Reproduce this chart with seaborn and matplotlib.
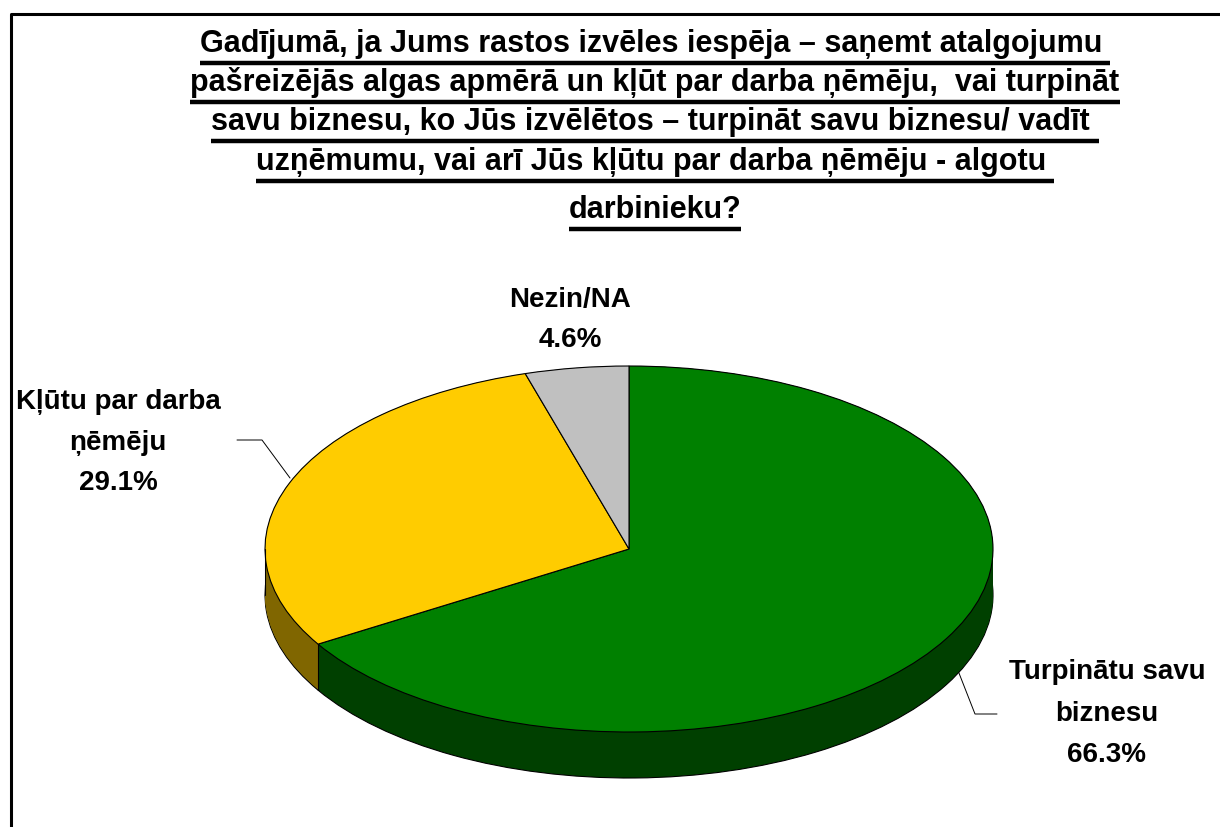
import numpy as np
import matplotlib
matplotlib.use("Agg")
import matplotlib.pyplot as plt
import seaborn as sns

# data
categories = ["Turpinātu savu\nbiznesu", "Kļūtu par darba\nņēmēju", "Nezin/NA"]
shares = [66.3, 29.1, 4.6]
top_colors = ["#008000", "#FFCC00", "#C0C0C0"]
side_colors = ["#004000", "#806600", "#606060"]
title_lines = [
    "Gadījumā, ja Jums rastos izvēles iespēja – saņemt atalgojumu ",
    "pašreizējās algas apmērā un kļūt par darba ņēmēju,  vai turpināt",
    "savu biznesu, ko Jūs izvēlētos – turpināt savu biznesu/ vadīt ",
    "uzņēmumu, vai arī Jūs kļūtu par darba ņēmēju - algotu ",
    "darbinieku?",
]

sns.set_theme(style="white")
plt.rcParams["font.family"] = ["Liberation Sans", "DejaVu Sans"]

W, H = 1220, 827
fig = plt.figure(figsize=(W / 100, H / 100), dpi=100)

# full-figure axes in pixel units for frame, title and leader lines
bg = fig.add_axes([0, 0, 1, 1])
bg.set_xlim(0, W)
bg.set_ylim(H, 0)
bg.axis("off")
bg.plot([11, 11, W + 5], [H + 5, 14, 14], color="black", lw=2.2, solid_capstyle="butt")

# pie geometry (pixels)
cx, cy, rx, ry, depth = 629, 549, 364, 183, 46
ax = fig.add_axes([(cx - rx) / W, (H - (cy + ry + depth)) / H,
                   2 * rx / W, (2 * ry + depth) / H])
d = depth / ry
offsets = np.linspace(d, 0, 48)
for k, off in enumerate(offsets):
    ax.pie(shares, colors=side_colors, startangle=90, counterclock=False,
           center=(0, -off),
           wedgeprops=dict(linewidth=0.8 if k == 0 else 0, edgecolor="black"))
ax.pie(shares, colors=top_colors, startangle=90, counterclock=False,
       wedgeprops=dict(linewidth=0.8, edgecolor="black"))

# vertical edges on the visible side
bounds = 90 - np.cumsum([0] + shares) * 3.6
for a in bounds:
    t = np.deg2rad(a)
    if np.sin(t) < 0:
        ax.plot([np.cos(t)] * 2, [np.sin(t), np.sin(t) - d], color="black", lw=0.8)
for xe in (-1, 1):
    ax.plot([xe, xe], [0, -d], color="black", lw=0.8)
ax.set_aspect("auto")
ax.set_xlim(-1, 1)
ax.set_ylim(-1 - d, 1)
ax.axis("off")

# title, underlined line by line
baselines = [52, 91, 130, 170, 218]
texts = []
for line, yb in zip(title_lines, baselines):
    texts.append(bg.text(655, yb, line, ha="center", va="baseline",
                         fontsize=22, fontweight="bold", color="black"))
fig.canvas.draw()
r = fig.canvas.get_renderer()
for t, yb in zip(texts, baselines):
    bb = t.get_window_extent(renderer=r)
    bg.plot([bb.x0, bb.x1], [yb + 11, yb + 11], color="black", lw=3.2,
            solid_capstyle="butt")

# data labels
label_pos = [(1107, [672, 714, 755]), (118, [402, 443, 483]), (570, [300, 340])]
for name, val, (lx, ys) in zip(categories, shares, label_pos):
    parts = name.split("\n") + [f"{val:.1f}%"]
    for p, yy in zip(parts, ys):
        bg.text(lx, yy, p, ha="center", va="center", fontsize=20,
                fontweight="bold", color="black")

# leader lines
bg.plot([237, 262, 290], [440, 440, 478], color="black", lw=0.7)
bg.plot([948, 975, 997], [645, 714, 714], color="black", lw=0.7)

fig.savefig("out.png", dpi=100)
